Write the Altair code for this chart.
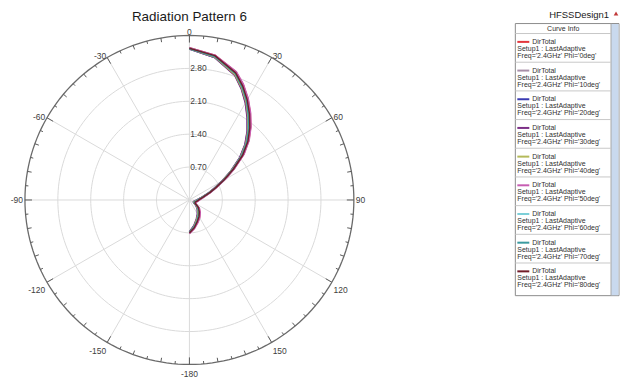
import altair as alt
import pandas as pd

# ---------------- data ----------------
theta_deg = [0, 10, 20, 25, 30, 35, 40, 45, 50, 55, 60, 65, 70, 80, 90, 100, 110, 120, 130, 140, 150, 160, 170, 180]
phi_labels = ["0deg", "10deg", "20deg", "30deg", "40deg", "50deg", "60deg", "70deg", "80deg"]

dir_phi0 = [3.24, 3.13, 2.90, 2.71, 2.49, 2.26, 2.03, 1.79, 1.51, 1.17, 0.88, 0.64, 0.48, 0.29, 0.21, 0.17, 0.14, 0.15, 0.27, 0.35, 0.43, 0.51, 0.61, 0.71]
dir_phi10 = [3.23, 3.12, 2.89, 2.69, 2.47, 2.24, 2.01, 1.77, 1.49, 1.15, 0.86, 0.63, 0.47, 0.28, 0.20, 0.16, 0.13, 0.14, 0.26, 0.34, 0.42, 0.50, 0.60, 0.70]
dir_phi20 = [3.21, 3.08, 2.83, 2.62, 2.39, 2.15, 1.92, 1.68, 1.40, 1.08, 0.80, 0.58, 0.43, 0.24, 0.16, 0.12, 0.10, 0.10, 0.19, 0.27, 0.35, 0.44, 0.56, 0.68]
dir_phi30 = [3.21, 3.08, 2.82, 2.61, 2.38, 2.14, 1.91, 1.67, 1.39, 1.07, 0.79, 0.57, 0.42, 0.24, 0.16, 0.12, 0.09, 0.10, 0.18, 0.26, 0.34, 0.43, 0.55, 0.68]
dir_phi40 = [3.22, 3.09, 2.84, 2.63, 2.41, 2.17, 1.94, 1.70, 1.42, 1.09, 0.81, 0.59, 0.44, 0.25, 0.17, 0.13, 0.10, 0.11, 0.20, 0.28, 0.36, 0.45, 0.57, 0.69]
dir_phi50 = [3.24, 3.13, 2.91, 2.72, 2.50, 2.27, 2.04, 1.80, 1.52, 1.18, 0.89, 0.65, 0.49, 0.30, 0.22, 0.18, 0.15, 0.16, 0.28, 0.36, 0.44, 0.52, 0.62, 0.72]
dir_phi60 = [3.23, 3.11, 2.87, 2.67, 2.45, 2.21, 1.98, 1.74, 1.46, 1.13, 0.84, 0.61, 0.46, 0.27, 0.19, 0.15, 0.12, 0.13, 0.24, 0.32, 0.40, 0.48, 0.59, 0.70]
dir_phi70 = [3.22, 3.10, 2.86, 2.65, 2.43, 2.19, 1.96, 1.72, 1.44, 1.11, 0.83, 0.60, 0.45, 0.26, 0.18, 0.14, 0.11, 0.12, 0.22, 0.30, 0.38, 0.47, 0.58, 0.69]
dir_phi80 = [3.23, 3.12, 2.88, 2.68, 2.46, 2.23, 2.00, 1.76, 1.48, 1.14, 0.85, 0.62, 0.47, 0.28, 0.20, 0.16, 0.13, 0.14, 0.25, 0.33, 0.41, 0.49, 0.60, 0.70]

curve_colors = ["#e3363d", "#a88fa8", "#3a3bb2", "#7c2f86", "#b4ba5a", "#c75db2", "#7ccfd8", "#3a9aa0", "#721c29"]

radial_ticks = [0.70, 1.40, 2.10, 2.80]
radial_tick_labels = ["0.70", "1.40", "2.10", "2.80"]
r_max = 3.5

angle_values = [0, 30, 60, 90, 120, 150, 180, 210, 240, 270, 300, 330]
angle_labels = ["0", "30", "60", "90", "120", "150", "-180", "-150", "-120", "-90", "-60", "-30"]
minor_angles = list(range(0, 360, 5))

plot_title = "Radiation Pattern 6"
legend_title = "HFSSDesign1"
legend_header = "Curve Info"
legend_line1 = "DirTotal"
legend_line2 = "Setup1 : LastAdaptive"
legend_line3 = ["Freq='2.4GHz' Phi='%s'" % p for p in phi_labels]

# ---------------- tables ----------------
series = [dir_phi0, dir_phi10, dir_phi20, dir_phi30, dir_phi40, dir_phi50, dir_phi60, dir_phi70, dir_phi80]
rows = []
for lab, vals in zip(phi_labels, series):
    for t, r in zip(theta_deg, vals):
        rows.append({"phi": lab, "theta": t, "r": r})
curves_df = pd.DataFrame(rows)
rings_df = pd.DataFrame({"r": radial_ticks})
outer_df = pd.DataFrame({"r": [r_max]})
spokes_df = pd.DataFrame({"a": angle_values})
ticks_df = pd.DataFrame({"a": minor_angles})
rlab_df = pd.DataFrame({"r": radial_ticks, "t": radial_tick_labels})
alab_df = pd.DataFrame({"a": angle_values, "t": angle_labels})
leg_df = pd.DataFrame({"phi": phi_labels, "l1": [legend_line1] * 9, "l2": [legend_line2] * 9, "l3": legend_line3})

FONT = "Liberation Sans"

# ---------------- polar panel ----------------
W = 330
px_per_unit = W / (2 * r_max)
top_extra = 27 / px_per_unit          # room above the outer circle for the title
H = 357

xs = alt.Scale(domain=[-r_max, r_max], nice=False, zero=False)
ys = alt.Scale(domain=[-r_max, r_max + top_extra], nice=False, zero=False)
color_scale = alt.Scale(domain=phi_labels, range=curve_colors)

def X(f):
    return alt.X(f, type="quantitative", scale=xs, axis=None)

def Y(f):
    return alt.Y(f, type="quantitative", scale=ys, axis=None)

def circle_layer(df, color, width):
    return alt.Chart(df).transform_calculate(
        ang="sequence(0, 362, 2)"
    ).transform_flatten(["ang"]).transform_calculate(
        x="datum.r*sin(datum.ang*PI/180)", y="datum.r*cos(datum.ang*PI/180)"
    ).mark_line(color=color, strokeWidth=width).encode(
        x=X("x"), y=Y("y"), detail="r:N", order=alt.Order("ang:Q"))

rings = circle_layer(rings_df, "#dadada", 1)
outer = circle_layer(outer_df, "#6a6a6a", 1.3)

spokes = alt.Chart(spokes_df).transform_calculate(
    x0="0", y0="0",
    x1=f"{r_max}*sin(datum.a*PI/180)", y1=f"{r_max}*cos(datum.a*PI/180)"
).mark_rule(color="#dadada", strokeWidth=1).encode(x=X("x0"), y=Y("y0"), x2="x1:Q", y2="y1:Q")

ticks = alt.Chart(ticks_df).transform_calculate(
    len="datum.a % 30 == 0 ? 0.15 : (datum.a % 10 == 0 ? 0.09 : 0.06)"
).transform_calculate(
    x1=f"{r_max}*sin(datum.a*PI/180)", y1=f"{r_max}*cos(datum.a*PI/180)",
    x2=f"({r_max}-datum.len)*sin(datum.a*PI/180)", y2=f"({r_max}-datum.len)*cos(datum.a*PI/180)"
).mark_rule(color="#5a5a5a", strokeWidth=1).encode(x=X("x1"), y=Y("y1"), x2="x2:Q", y2="y2:Q")

lines = alt.Chart(curves_df).transform_calculate(
    x="datum.r*sin(datum.theta*PI/180)", y="datum.r*cos(datum.theta*PI/180)"
).mark_line(strokeWidth=1.5, strokeJoin="round").encode(
    x=X("x"), y=Y("y"),
    color=alt.Color("phi:N", scale=color_scale, legend=None),
    order=alt.Order("theta:Q"))

rlabels = alt.Chart(rlab_df).transform_calculate(x0="0").mark_text(
    fontSize=8.5, color="#404040", align="center", baseline="middle", dx=9
).encode(x=X("x0"), y=Y("r"), text="t:N")

lab_r = 167 / px_per_unit

def angle_label_layer(angles, align, dy):
    sel = " || ".join("datum.a == %d" % a for a in angles)
    return alt.Chart(alab_df).transform_filter(sel).transform_calculate(
        x=f"{lab_r}*sin(datum.a*PI/180)", y=f"{lab_r}*cos(datum.a*PI/180)"
    ).mark_text(fontSize=8.5, color="#404040", align=align, baseline="middle", dy=dy).encode(
        x=X("x"), y=Y("y"), text="t:N")

alabels = [
    angle_label_layer([30, 60, 90], "left", 0),
    angle_label_layer([120, 150], "left", 7),
    angle_label_layer([330, 300, 270], "right", 0),
    angle_label_layer([240, 210], "right", 7),
    angle_label_layer([0], "center", -2),
    angle_label_layer([180], "center", 8),
]

title_mark = alt.Chart(pd.DataFrame({"t": [plot_title]})).mark_text(
    fontSize=13.5, color="#1a1a1a", align="center", baseline="alphabetic"
).encode(x=alt.X(datum=0, scale=xs, axis=None), y=alt.value(12), text="t:N")

polar = alt.layer(rings, spokes, outer, ticks, lines, rlabels, title_mark, *alabels).properties(
    width=W, height=H)

# ---------------- legend panel ----------------
LW = 104
BOXW = 96
BOX_TOP = 15
BOX_BOTTOM = 288
LH = BOX_BOTTOM

yband = alt.Scale(type="band", domain=phi_labels, range=[BOX_TOP + 10, BOX_TOP + 269],
                  paddingInner=0, paddingOuter=0)

def YB(pos):
    return alt.Y("phi:N", scale=yband, axis=None, bandPosition=pos)

one = pd.DataFrame({"t": ["x"]})
box = alt.Chart(one).mark_rect(fill="white", stroke="#8c8c8c", strokeWidth=1).encode(
    x=alt.value(0), x2=alt.value(LW), y=alt.value(BOX_TOP), y2=alt.value(BOX_BOTTOM))
scroll = alt.Chart(one).mark_rect(color="#c9d9ee").encode(
    x=alt.value(BOXW), x2=alt.value(LW - 0.5), y=alt.value(BOX_TOP + 0.5), y2=alt.value(BOX_BOTTOM - 0.5))
scroll_edge = alt.Chart(one).mark_rule(color="#a8a8a8", strokeWidth=1).encode(
    x=alt.value(BOXW), y=alt.value(BOX_TOP), y2=alt.value(BOX_BOTTOM))

leg_base = alt.Chart(leg_df)
sep = leg_base.mark_rule(color="#c8c8c8", strokeWidth=1).encode(
    y=YB(0), x=alt.value(0), x2=alt.value(BOXW))
sample = leg_base.mark_rule(strokeWidth=2, yOffset=-6).encode(
    y=YB(0.5), x=alt.value(2), x2=alt.value(14),
    color=alt.Color("phi:N", scale=color_scale, legend=None))
t1 = leg_base.mark_text(fontSize=7, color="#303030", align="left", baseline="middle", dy=-6).encode(
    y=YB(0.5), x=alt.value(17), text="l1:N")
t2 = leg_base.mark_text(fontSize=7, color="#303030", align="left", baseline="middle", dy=1).encode(
    y=YB(0.5), x=alt.value(2), text="l2:N")
t3 = leg_base.mark_text(fontSize=7, color="#303030", align="left", baseline="middle", dy=8).encode(
    y=YB(0.5), x=alt.value(2), text="l3:N")
header = alt.Chart(pd.DataFrame({"t": [legend_header]})).mark_text(
    fontSize=7, color="#303030", align="center", baseline="middle").encode(
    x=alt.value(BOXW / 2), y=alt.value(BOX_TOP + 5.5), text="t:N")
ltitle = alt.Chart(pd.DataFrame({"t": [legend_title]})).mark_text(
    fontSize=9.5, color="#1a1a1a", align="center", baseline="alphabetic").encode(
    x=alt.value(64), y=alt.value(9.5), text="t:N")
logo = alt.Chart(one).mark_point(
    shape="triangle-up", filled=True, color="#c23a3a", size=22, opacity=1).encode(
    x=alt.value(101), y=alt.value(5))

legend_panel = alt.layer(box, scroll, scroll_edge, sep, sample, t1, t2, t3, header, ltitle, logo).properties(
    width=LW, height=LH)

chart = alt.hconcat(polar, legend_panel, spacing=162, bounds="flush").properties(
    padding={"left": 2, "top": 0, "right": 0, "bottom": 0}
).configure(font=FONT, background="white").configure_view(stroke=None)

chart.save("out.html", embed_options={"renderer": "svg", "actions": False})
